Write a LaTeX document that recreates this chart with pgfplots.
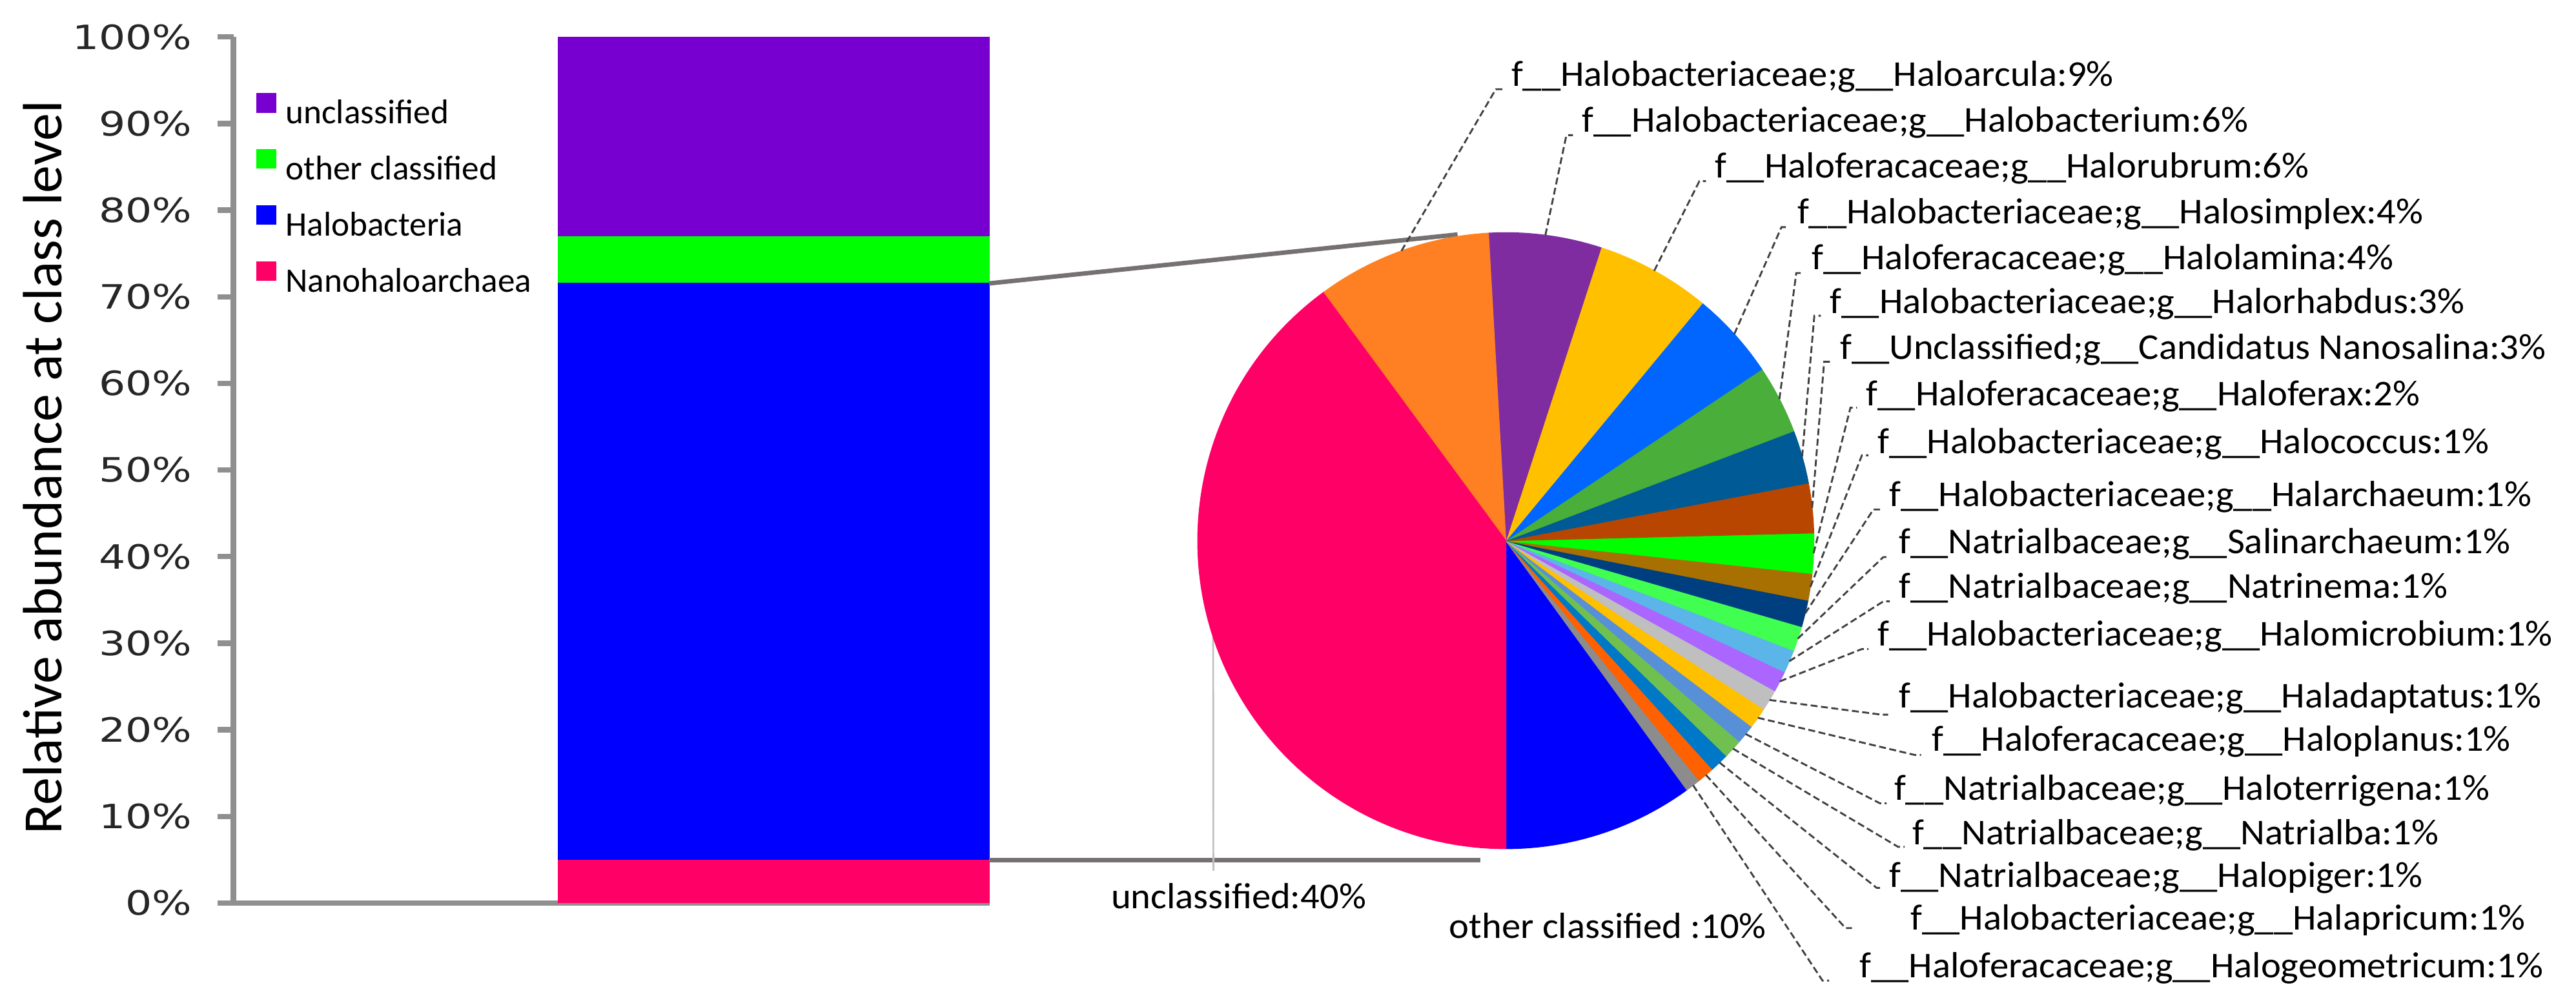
\documentclass[border=0pt]{standalone}
\usepackage{pgfplots}
\pgfplotsset{compat=1.18}
\usepackage{fontspec}
\setmainfont{Carlito}
\newfontfamily\piefam{Carlito}[FakeStretch=1.04]
\newfontfamily\tickfam{DejaVu Sans}[FakeStretch=1.25]
\newcommand\pielab{\piefam\fontsize{6.3pt}{7.5pt}\selectfont}
\definecolor{axgray}{HTML}{8F8F8F}
\definecolor{conn}{HTML}{767171}
\definecolor{cNano}{HTML}{FF0066}
\definecolor{cHalo}{HTML}{0000FF}
\definecolor{cOthC}{HTML}{00FF00}
\definecolor{cUncl}{HTML}{7700D0}
\definecolor{cOther}{HTML}{0000FF}
\definecolor{cGeo}{HTML}{8C8C8C}
\definecolor{cApr}{HTML}{FF6000}
\definecolor{cPig}{HTML}{0078C8}
\definecolor{cNba}{HTML}{70C050}
\definecolor{cTer}{HTML}{5890D8}
\definecolor{cPla}{HTML}{FFC000}
\definecolor{cAda}{HTML}{BFBFBF}
\definecolor{cMic}{HTML}{AA66FF}
\definecolor{cNem}{HTML}{5BB5E8}
\definecolor{cSal}{HTML}{40FF50}
\definecolor{cArc}{HTML}{003F7F}
\definecolor{cCoc}{HTML}{A87000}
\definecolor{cFer}{HTML}{00FF00}
\definecolor{cCan}{HTML}{B84600}
\definecolor{cRha}{HTML}{005A96}
\definecolor{cLam}{HTML}{4AAE3A}
\definecolor{cSim}{HTML}{0066FF}
\definecolor{cRub}{HTML}{FFC000}
\definecolor{cBac}{HTML}{7F2CA0}
\definecolor{cArcu}{HTML}{FF8022}
\definecolor{cUnc}{HTML}{FF0066}
\tikzset{ldr/.style={draw=black!75, line width=0.32pt, dash pattern=on 1.2pt off 0.6pt}}
\begin{document}
\begin{tikzpicture}
\path[use as bounding box] (0,0) rectangle (15.68cm,6.13cm);
% ---------------- stacked bar ----------------
\begin{axis}[
  at={(1.421cm,0.632cm)}, anchor=south west,
  scale only axis, width=4.603cm, height=5.273cm,
  xmin=0, xmax=460.3, ymin=0, ymax=100,
  axis lines*=left,
  axis line style={draw=axgray, line width=0.93pt},
  xtick=\empty,
  ytick={0,10,...,100},
  yticklabels={0\%,10\%,20\%,30\%,40\%,50\%,60\%,70\%,80\%,90\%,100\%},
  yticklabel style={font=\tickfam\fontsize{5.8pt}{7pt}\selectfont, text=black!85, xshift=-0.03cm},
  tick style={draw=axgray, line width=0.93pt},
  major tick length=0.098cm,
  tick align=outside,
  ylabel={Relative abundance at class level},
  ylabel style={at={(axis description cs:-0.2522,0.5027)}, anchor=center, font=\fontsize{9.6pt}{11pt}\selectfont},
  ybar stacked, bar width=262.8,
  reverse legend,
  legend style={at={(axis description cs:0.0291,0.9363)}, anchor=north west, draw=none, fill=none, inner sep=0pt, row sep=0.155cm, column sep=0.059cm, font=\fontsize{5.95pt}{7pt}\selectfont, nodes={inner sep=0pt, text height=0.124cm, text depth=0pt}},
  legend cell align=left,
  legend image code/.code={\fill (0cm,0.006cm) rectangle (0.118cm,0.124cm);},
]
\addplot[fill=cNano, draw=none] coordinates {(328.9,5.0)};
\addplot[fill=cHalo, draw=none] coordinates {(328.9,66.6)};
\addplot[fill=cOthC, draw=none] coordinates {(328.9,5.4)};
\addplot[fill=cUncl, draw=none] coordinates {(328.9,23.0)};
\legend{Nanohaloarchaea,Halobacteria,other classified,unclassified}
\end{axis}
% ---------------- pie ----------------
\begin{axis}[
  at={(0cm,0cm)}, anchor=south west,
  x=0.01cm, y=0.01cm, xmin=0, xmax=1568, ymin=0, ymax=613,
  y dir=reverse, hide axis, clip=false,
]
\draw[conn, line width=0.77pt] (axis cs:602.4,172.3) -- (axis cs:887.7,142.5);
\draw[conn, line width=0.77pt] (axis cs:602.4,523.5) -- (axis cs:901.8,523.5);
\draw[black!25, line width=0.3pt] (axis cs:917.1,329) ++(198.18:1.875cm) -- (axis cs:739,530);
\gdef\astart{-90}
\foreach \v/\c in {10.0/cOther,0.8/cGeo,0.9/cApr,1.0/cPig,1.0/cNba,1.0/cTer,1.1/cPla,1.1/cAda,1.1/cMic,1.2/cNem,1.3/cSal,1.4/cArc,1.4/cCoc,2.1/cFer,2.6/cCan,2.8/cRha,3.6/cLam,4.6/cSim,6.0/cRub,5.9/cBac,9.2/cArcu,39.9/cUnc}{%
  \pgfmathsetmacro\aend{\astart+3.6*\v}%
  \edef\temp{\noexpand\fill[\c, draw=\c, line width=0.15pt] (axis cs:917.1,329) -- ++(\astart:1.875cm) arc[start angle=\astart,end angle=\aend,radius=1.875cm] -- cycle;}%
  \temp
  \xdef\astart{\aend}%
}
% leader lines
\foreach \t/\ex/\ey in {109.8/911/54, 82.62/954/82, 61.2/1035/110, 42.12/1085/138, 27.36/1094/166, 15.84/1105/192, 6.12/1111/220, -2.34/1127/248, -8.64/1134/277, -13.68/1141/310, -18.54/1147/339, -23.04/1147/366, -27.18/1134/395, -31.14/1146/435, -35.1/1166/459.5, -38.88/1145/489, -42.48/1156/515.5, -46.08/1143/540.5, -49.5/1124/565, -52.56/1110/597}{%
  \edef\temp{\noexpand\draw[ldr] (axis cs:917.1,329) ++(\t:1.875cm) -- (axis cs:\ex,\ey) -- ++(0.04cm,0);}%
  \temp
}
% labels
\node[anchor=base west, inner sep=0pt, font=\pielab] at (axis cs:919.8,52) {f\_\_Halobacteriaceae;g\_\_Haloarcula:9\%};
\node[anchor=base west, inner sep=0pt, font=\pielab] at (axis cs:963,80) {f\_\_Halobacteriaceae;g\_\_Halobacterium:6\%};
\node[anchor=base west, inner sep=0pt, font=\pielab] at (axis cs:1044,108) {f\_\_Haloferacaceae;g\_\_Halorubrum:6\%};
\node[anchor=base west, inner sep=0pt, font=\pielab] at (axis cs:1094,136) {f\_\_Halobacteriaceae;g\_\_Halosimplex:4\%};
\node[anchor=base west, inner sep=0pt, font=\pielab] at (axis cs:1103,164) {f\_\_Haloferacaceae;g\_\_Halolamina:4\%};
\node[anchor=base west, inner sep=0pt, font=\pielab] at (axis cs:1114,190.5) {f\_\_Halobacteriaceae;g\_\_Halorhabdus:3\%};
\node[anchor=base west, inner sep=0pt, font=\pielab] at (axis cs:1120,218.5) {f\_\_Unclassified;g\_\_Candidatus Nanosalina:3\%};
\node[anchor=base west, inner sep=0pt, font=\pielab] at (axis cs:1136,246.6) {f\_\_Haloferacaceae;g\_\_Haloferax:2\%};
\node[anchor=base west, inner sep=0pt, font=\pielab] at (axis cs:1143,275.7) {f\_\_Halobacteriaceae;g\_\_Halococcus:1\%};
\node[anchor=base west, inner sep=0pt, font=\pielab] at (axis cs:1150,308) {f\_\_Halobacteriaceae;g\_\_Halarchaeum:1\%};
\node[anchor=base west, inner sep=0pt, font=\pielab] at (axis cs:1156,337) {f\_\_Natrialbaceae;g\_\_Salinarchaeum:1\%};
\node[anchor=base west, inner sep=0pt, font=\pielab] at (axis cs:1156,364) {f\_\_Natrialbaceae;g\_\_Natrinema:1\%};
\node[anchor=base west, inner sep=0pt, font=\pielab] at (axis cs:1143,393) {f\_\_Halobacteriaceae;g\_\_Halomicrobium:1\%};
\node[anchor=base west, inner sep=0pt, font=\pielab] at (axis cs:1156,431) {f\_\_Halobacteriaceae;g\_\_Haladaptatus:1\%};
\node[anchor=base west, inner sep=0pt, font=\pielab] at (axis cs:1176,457) {f\_\_Haloferacaceae;g\_\_Haloplanus:1\%};
\node[anchor=base west, inner sep=0pt, font=\pielab] at (axis cs:1153,487) {f\_\_Natrialbaceae;g\_\_Haloterrigena:1\%};
\node[anchor=base west, inner sep=0pt, font=\pielab] at (axis cs:1164,514) {f\_\_Natrialbaceae;g\_\_Natrialba:1\%};
\node[anchor=base west, inner sep=0pt, font=\pielab] at (axis cs:1150,540) {f\_\_Natrialbaceae;g\_\_Halopiger:1\%};
\node[anchor=base west, inner sep=0pt, font=\pielab] at (axis cs:1163,566) {f\_\_Halobacteriaceae;g\_\_Halapricum:1\%};
\node[anchor=base west, inner sep=0pt, font=\pielab] at (axis cs:1132,595) {f\_\_Haloferacaceae;g\_\_Halogeometricum:1\%};
\node[anchor=base west, inner sep=0pt, font=\pielab] at (axis cs:676,553) {unclassified:40\%};
\node[anchor=base west, inner sep=0pt, font=\pielab] at (axis cs:882,571) {other classified :10\%};
\end{axis}
\end{tikzpicture}
\end{document}
